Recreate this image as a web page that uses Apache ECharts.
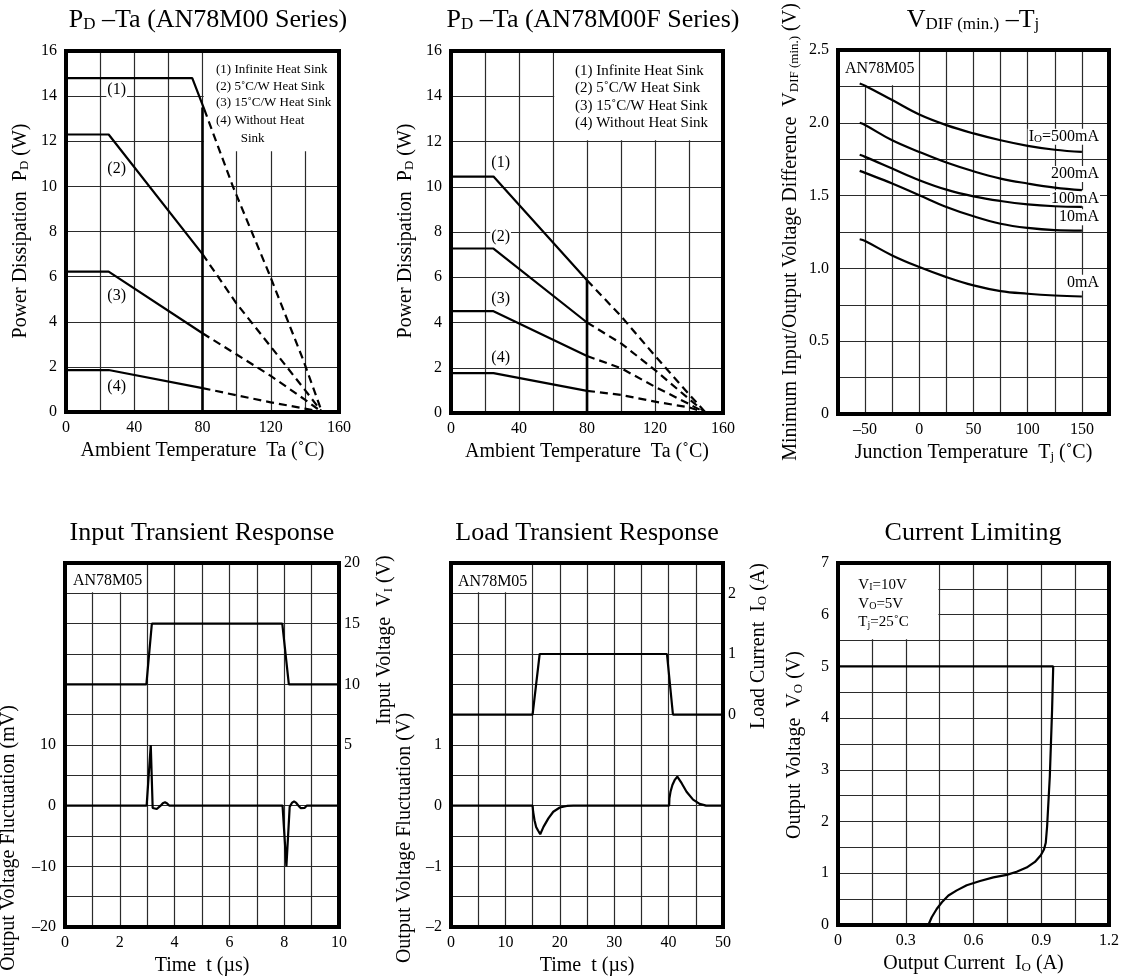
<!DOCTYPE html>
<html>
<head>
<meta charset="utf-8">
<script src="https://cdn.jsdelivr.net/npm/echarts/dist/echarts.min.js"></script>
<style>
html,body{margin:0;padding:0;background:#fff}
#c{width:1123px;height:980px}
</style>
</head>
<body>
<div id="c"></div>
<script>
// ================= DATA =================
// Panel 1: PD–Ta (AN78M00 Series)
const m00Ta1  = [0, 74, 81];
const m00Pd1  = [14.8, 14.8, 13.42];
const m00Ta1d = [81, 98, 119, 139, 150];
const m00Pd1d = [13.42, 9.96, 6.14, 2.31, 0];
const m00TaS  = [0, 25, 80];
const m00Pd2  = [12.3, 12.3, 7.0];
const m00Pd3  = [6.22, 6.22, 3.49];
const m00Pd4  = [1.86, 1.86, 1.06];
const m00TaD  = [80, 100, 120, 140, 150];
const m00Pd2d = [7.0, 4.8, 2.9, 0.98, 0];
const m00Pd3d = [3.49, 2.55, 1.6, 0.55, 0];
const m00Pd4d = [1.06, 0.74, 0.43, 0.15, 0];
const m00LimTa = [80, 80];
const m00LimPd = [0, 13.5];
const m00XLabels = [0, 40, 80, 120, 160];
const m00YLabels = [0, 2, 4, 6, 8, 10, 12, 14, 16];

// Panel 2: PD–Ta (AN78M00F Series)
const f00TaS  = [0, 25, 80];
const f00Pd1  = [10.45, 10.45, 5.87];
const f00Pd2  = [7.27, 7.27, 4.0];
const f00Pd3  = [4.5, 4.5, 2.52];
const f00Pd4  = [1.76, 1.76, 0.98];
const f00TaD  = [80, 100, 120, 140, 150];
const f00Pd1d = [5.87, 4.28, 2.53, 0.83, 0];
const f00Pd2d = [4.0, 3.08, 1.9, 0.62, 0];
const f00Pd3d = [2.52, 1.98, 1.16, 0.4, 0];
const f00Pd4d = [0.98, 0.8, 0.5, 0.25, 0];
const f00LimTa = [80, 80];
const f00LimPd = [0, 5.87];
const f00XLabels = [0, 40, 80, 120, 160];
const f00YLabels = [0, 2, 4, 6, 8, 10, 12, 14, 16];

// Panel 3: VDIF(min.)–Tj
const vdifTj  = [-55, -50, -25, 0, 25, 50, 75, 100, 125, 150];
const vdif500 = [2.27, 2.255, 2.156, 2.057, 1.984, 1.927, 1.88, 1.842, 1.815, 1.80];
const vdif200 = [2.0, 1.985, 1.88, 1.80, 1.727, 1.667, 1.617, 1.583, 1.555, 1.537];
const vdif100 = [1.78, 1.766, 1.686, 1.606, 1.541, 1.495, 1.463, 1.44, 1.427, 1.422];
const vdif10  = [1.67, 1.656, 1.583, 1.502, 1.422, 1.358, 1.307, 1.278, 1.263, 1.26];
const vdif0   = [1.20, 1.188, 1.089, 1.009, 0.94, 0.883, 0.844, 0.826, 0.814, 0.807];
const vdifXLabels = [-50, 0, 50, 100, 150];
const vdifYLabels = [0, 0.5, 1.0, 1.5, 2.0, 2.5];

// Panel 4: Input transient response
const itrVinT = [0, 2.97, 3.17, 7.93, 8.17, 10];
const itrVin  = [10, 10, 15, 15, 10, 10];
const itrOutT = [0, 2.98, 3.13, 3.2, 3.27, 3.35, 3.42, 3.49, 3.57, 3.65, 3.73, 3.81, 7.94, 8.08, 8.2, 8.28, 8.36, 8.44, 8.52, 8.6, 8.67, 8.75, 8.82, 10];
const itrOut  = [0, 0, 10, -0.38, -0.5, -0.55, -0.4, 0, 0.4, 0.55, 0.35, 0, 0, -10, -0.2, 0.45, 0.7, 0.45, 0, -0.4, -0.55, -0.35, 0, 0];
const itrXLabels = [0, 2, 4, 6, 8, 10];
const itrYLabels = [-20, -10, 0, 10];
const itrY2Labels = [5, 10, 15, 20];

// Panel 5: Load transient response
const ltrIoT  = [0, 15, 16.3, 39.7, 40.8, 50];
const ltrIo   = [0, 0, 1, 1, 0, 0];
const ltrOutT = [0, 15, 15.1, 15.35, 15.65, 16.0, 16.4, 17.0, 17.9, 18.8, 20.0, 21.3, 22.5, 40.1, 40.15, 40.35, 40.7, 41.1, 41.6, 42.4, 43.3, 44.5, 45.7, 46.9, 50];
const ltrOut  = [0, 0, -0.1, -0.24, -0.35, -0.41, -0.47, -0.35, -0.21, -0.1, -0.03, -0.005, 0, 0, 0.12, 0.23, 0.34, 0.42, 0.48, 0.37, 0.23, 0.1, 0.03, 0, 0];
const ltrXLabels = [0, 10, 20, 30, 40, 50];
const ltrYLabels = [-2, -1, 0, 1];
const ltrY2Labels = [0, 1, 2];

// Panel 6: Current limiting
const clIo = [0, 0.953, 0.948, 0.938, 0.926, 0.92, 0.912, 0.898, 0.872, 0.835, 0.791, 0.747, 0.688, 0.629, 0.57, 0.526, 0.489, 0.46, 0.437, 0.415, 0.40];
const clVo = [5, 5, 4.16, 2.88, 1.91, 1.59, 1.46, 1.35, 1.22, 1.11, 1.03, 0.97, 0.92, 0.85, 0.77, 0.67, 0.57, 0.44, 0.31, 0.15, 0];
const clXLabels = [0, 0.3, 0.6, 0.9, 1.2];
const clYLabels = [0, 1, 2, 3, 4, 5, 6, 7];

// ================= LAYOUT / STYLE =================
const FONT = 'Liberation Serif';
const grids = [
  {left: 66,  top: 51,  width: 273, height: 361},
  {left: 451, top: 51,  width: 272, height: 362},
  {left: 838, top: 50,  width: 271, height: 364},
  {left: 65,  top: 563, width: 274, height: 364},
  {left: 451, top: 563, width: 272, height: 364},
  {left: 838, top: 563, width: 271, height: 362}
];
const SOLID = {color: '#000', width: 2.2};
const THICK = {color: '#000', width: 2.6};
const DASH  = {color: '#000', width: 2.2, type: [8, 5]};
const SPLIT = {show: true, lineStyle: {color: '#2b2b2b', width: 1.2}};

const zip = (xs, ys) => xs.map((x, i) => [x, ys[i]]);
const subRich = (size) => ({s: {fontSize: size, fontFamily: FONT, color: '#000', verticalAlign: 'bottom', lineHeight: Math.round(size * 0.6)}});

function labelFmt(list, txt) {
  return function (v) {
    const hit = list.find(t => Math.abs(t - v) < 1e-7);
    if (hit === undefined) return '';
    return (txt ? txt(hit) : String(hit)).replace('-', '\u2013');
  };
}

function xAx(gi, min, max, interval, fmt, name) {
  return {
    type: 'value', gridIndex: gi, min, max, interval,
    axisLine: {show: false}, axisTick: {show: false}, splitLine: SPLIT,
    axisLabel: {formatter: fmt, margin: 8, fontSize: 16, color: '#000', fontFamily: FONT, showMinLabel: true, showMaxLabel: true},
    name, nameLocation: 'middle', nameGap: 29,
    nameTextStyle: {fontSize: 20, color: '#000', fontFamily: FONT, rich: subRich(13)}
  };
}
function yAx(gi, min, max, interval, fmt, pos, split) {
  return {
    type: 'value', gridIndex: gi, min, max, interval, position: pos || 'left',
    axisLine: {show: false}, axisTick: {show: false},
    splitLine: split === false ? {show: false} : SPLIT,
    axisLabel: {formatter: fmt, margin: pos === 'right' ? 5 : 9, fontSize: 16, color: '#000', fontFamily: FONT, showMinLabel: true, showMaxLabel: true}
  };
}
function line(xi, yi, xs, ys, style, extra) {
  return Object.assign({
    type: 'line', xAxisIndex: xi, yAxisIndex: yi, data: zip(xs, ys),
    showSymbol: false, symbol: 'none', lineStyle: style, animation: false, silent: true
  }, extra || {});
}
function title(text, cx, cy) {
  return {
    text, left: cx, top: cy, textAlign: 'center', textVerticalAlign: 'middle',
    padding: 0,
    textStyle: {fontSize: 26, fontWeight: 'normal', color: '#000', fontFamily: FONT, rich: subRich(17)}
  };
}

const option = {
  animation: false,
  backgroundColor: '#fff',
  textStyle: {fontFamily: FONT},
  title: [
    title('P{s|D} \u2013Ta (AN78M00 Series)', 208, 20),
    title('P{s|D} \u2013Ta (AN78M00F Series)', 593, 20),
    title('V{s|DIF (min.)} \u2013T{s|j}', 973, 20),
    title('Input Transient Response', 202, 533),
    title('Load Transient Response', 587, 533),
    title('Current Limiting', 973, 533)
  ],
  grid: grids.map(g => Object.assign({show: false, containLabel: false}, g)),
  xAxis: [
    xAx(0, 0, 160, 20, labelFmt(m00XLabels), 'Ambient Temperature  Ta (\u02DAC)'),
    xAx(1, 0, 160, 20, labelFmt(f00XLabels), 'Ambient Temperature  Ta (\u02DAC)'),
    xAx(2, -75, 175, 25, labelFmt(vdifXLabels), 'Junction Temperature  T{s|j} (\u02DAC)'),
    xAx(3, 0, 10, 1, labelFmt(itrXLabels), 'Time  t (\u00B5s)'),
    xAx(4, 0, 50, 5, labelFmt(ltrXLabels), 'Time  t (\u00B5s)'),
    xAx(5, 0, 1.2, 0.15, labelFmt(clXLabels), 'Output Current  I{s|O} (A)')
  ],
  yAxis: [
    yAx(0, 0, 16, 2, labelFmt(m00YLabels)),
    yAx(1, 0, 16, 2, labelFmt(f00YLabels)),
    yAx(2, 0, 2.5, 0.25, labelFmt(vdifYLabels, v => v === 0 ? '0' : v.toFixed(1))),
    yAx(3, -20, 40, 5, labelFmt(itrYLabels)),
    yAx(3, -10, 20, 2.5, labelFmt(itrY2Labels), 'right', false),
    yAx(4, -2, 4, 0.5, labelFmt(ltrYLabels)),
    yAx(4, -3.5, 2.5, 0.5, labelFmt(ltrY2Labels), 'right', false),
    yAx(5, 0, 7, 0.5, labelFmt(clYLabels))
  ],
  series: [
    // Panel 1
    line(0, 0, m00Ta1, m00Pd1, SOLID), line(0, 0, m00Ta1d, m00Pd1d, DASH),
    line(0, 0, m00TaS, m00Pd2, SOLID), line(0, 0, m00TaD, m00Pd2d, DASH),
    line(0, 0, m00TaS, m00Pd3, SOLID), line(0, 0, m00TaD, m00Pd3d, DASH),
    line(0, 0, m00TaS, m00Pd4, SOLID), line(0, 0, m00TaD, m00Pd4d, DASH),
    line(0, 0, m00LimTa, m00LimPd, THICK),
    // Panel 2
    line(1, 1, f00TaS, f00Pd1, SOLID), line(1, 1, f00TaD, f00Pd1d, DASH),
    line(1, 1, f00TaS, f00Pd2, SOLID), line(1, 1, f00TaD, f00Pd2d, DASH),
    line(1, 1, f00TaS, f00Pd3, SOLID), line(1, 1, f00TaD, f00Pd3d, DASH),
    line(1, 1, f00TaS, f00Pd4, SOLID), line(1, 1, f00TaD, f00Pd4d, DASH),
    line(1, 1, f00LimTa, f00LimPd, THICK),
    // Panel 3
    line(2, 2, vdifTj, vdif500, SOLID, {smooth: 0.4}),
    line(2, 2, vdifTj, vdif200, SOLID, {smooth: 0.4}),
    line(2, 2, vdifTj, vdif100, SOLID, {smooth: 0.4}),
    line(2, 2, vdifTj, vdif10, SOLID, {smooth: 0.4}),
    line(2, 2, vdifTj, vdif0, SOLID, {smooth: 0.4}),
    // Panel 4
    line(3, 4, itrVinT, itrVin, SOLID),
    line(3, 3, itrOutT, itrOut, SOLID),
    // Panel 5
    line(4, 6, ltrIoT, ltrIo, SOLID),
    line(4, 5, ltrOutT, ltrOut, SOLID),
    // Panel 6
    line(5, 7, clIo, clVo, SOLID)
  ]
};

const chart = echarts.init(document.getElementById('c'));
chart.setOption(option);

// ================= ANNOTATIONS (data coords -> pixels) =================
const px = (xi, yi, pt) => chart.convertToPixel({xAxisIndex: xi, yAxisIndex: yi}, pt);
const masks = [
  [0, 0, [80, 11.5], [160, 16]],
  [1, 1, [60, 12], [160, 16]],
  [2, 2, [-75, 2.25], [0, 2.5]],
  [3, 3, [0, 35], [3, 40]],
  [4, 5, [0, 3.5], [15, 4]],
  [5, 7, [0, 5.5], [0.45, 7]]
];
const notes = [
  // [xAxis, yAxis, x, y, text, size, align, vAlign, whiteBg]
  [0, 0, 87.9, 15.16, '(1) Infinite Heat Sink', 13, 'left', 'middle', false],
  [0, 0, 87.9, 14.42, '(2) 5\u02DAC/W Heat Sink', 13, 'left', 'middle', false],
  [0, 0, 87.9, 13.71, '(3) 15\u02DAC/W Heat Sink', 13, 'left', 'middle', false],
  [0, 0, 87.9, 12.91, '(4) Without Heat', 13, 'left', 'middle', false],
  [0, 0, 102.4, 12.13, 'Sink', 13, 'left', 'middle', false],
  [0, 0, 29.7, 14.27, '(1)', 16, 'center', 'middle', true],
  [0, 0, 29.7, 10.8, '(2)', 16, 'center', 'middle', false],
  [0, 0, 29.7, 5.14, '(3)', 16, 'center', 'middle', false],
  [0, 0, 29.7, 1.12, '(4)', 16, 'center', 'middle', false],
  [1, 1, 72.9, 15.12, '(1) Infinite Heat Sink', 15, 'left', 'middle', false],
  [1, 1, 72.9, 14.35, '(2) 5\u02DAC/W Heat Sink', 15, 'left', 'middle', false],
  [1, 1, 72.9, 13.58, '(3) 15\u02DAC/W Heat Sink', 15, 'left', 'middle', false],
  [1, 1, 72.9, 12.81, '(4) Without Heat Sink', 15, 'left', 'middle', false],
  [1, 1, 29.2, 11.04, '(1)', 16, 'center', 'middle', false],
  [1, 1, 29.2, 7.79, '(2)', 16, 'center', 'middle', true],
  [1, 1, 29.2, 5.04, '(3)', 16, 'center', 'middle', false],
  [1, 1, 29.2, 2.42, '(4)', 16, 'center', 'middle', false],
  [2, 2, -68.5, 2.37, 'AN78M05', 16, 'left', 'middle', false],
  [2, 2, 166.7, 1.905, 'I{s|O}=500mA', 16, 'right', 'middle', true],
  [2, 2, 166.7, 1.648, '200mA', 16, 'right', 'middle', true],
  [2, 2, 166.7, 1.481, '100mA', 16, 'right', 'middle', true],
  [2, 2, 166.7, 1.351, '10mA', 16, 'right', 'middle', true],
  [2, 2, 166.7, 0.902, '0mA', 16, 'right', 'middle', true],
  [3, 3, 0.29, 37.03, 'AN78M05', 16, 'left', 'middle', false],
  [4, 5, 1.29, 3.69, 'AN78M05', 16, 'left', 'middle', false],
  [5, 7, 0.09, 6.575, 'V{s|I}=10V', 15, 'left', 'middle', false],
  [5, 7, 0.09, 6.2, 'V{s|O}=5V', 15, 'left', 'middle', false],
  [5, 7, 0.09, 5.85, 'T{s|j}=25\u02DAC', 15, 'left', 'middle', false]
];
// rotated axis names: [x px, y px, text, size]
const vnames = [
  [21, 231, 'Power Dissipation  P{s|D} (W)', 20],
  [406, 231, 'Power Dissipation  P{s|D} (W)', 20],
  [791, 232, 'Minimum Input/Output Voltage Difference  V{s|DIF (min.)} (V)', 20],
  [9, 838, 'Output Voltage Fluctuation (mV)', 20],
  [385, 640, 'Input Voltage  V{s|I} (V)', 20],
  [405, 838, 'Output Voltage Fluctuation (V)', 20],
  [759, 646, 'Load Current  I{s|O} (A)', 20],
  [795, 745, 'Output Voltage  V{s|O} (V)', 20]
];

const gfx = [];
masks.forEach(([xi, yi, a, b]) => {
  const p = px(xi, yi, a), q = px(xi, yi, b);
  const x0 = Math.min(p[0], q[0]) + 1.2, x1 = Math.max(p[0], q[0]) - 1.2;
  const y0 = Math.min(p[1], q[1]) + 1.2, y1 = Math.max(p[1], q[1]) - 1.2;
  gfx.push({type: 'rect', z: 1, silent: true, shape: {x: x0, y: y0, width: x1 - x0, height: y1 - y0}, style: {fill: '#fff', stroke: null}});
});
function richFor(size) {
  const s = Math.round(size * 0.66);
  return {s: {fontSize: s, fontFamily: FONT, fill: '#000', verticalAlign: 'bottom', lineHeight: Math.round(s * 0.6)}};
}
notes.forEach(([xi, yi, x, y, text, size, align, va, bg]) => {
  const p = px(xi, yi, [x, y]);
  const st = {text, fill: '#000', fontSize: size, fontFamily: FONT, align, verticalAlign: va, textAlign: align, textVerticalAlign: va, rich: richFor(size)};
  if (bg) { st.backgroundColor = '#fff'; st.padding = [0, 1, 0, 1]; }
  gfx.push({type: 'text', z: 1, silent: true, x: p[0], y: p[1], style: st});
});
vnames.forEach(([x, y, text, size]) => {
  gfx.push({type: 'text', z: 5, silent: true, x, y, rotation: Math.PI / 2,
    style: {text, fill: '#000', fontSize: size, fontFamily: FONT, align: 'center', verticalAlign: 'middle', textAlign: 'center', textVerticalAlign: 'middle', rich: richFor(size)}});
});
grids.forEach(g => {
  gfx.push({type: 'rect', z: 10, silent: true, shape: {x: g.left, y: g.top, width: g.width, height: g.height}, style: {fill: null, stroke: '#000', lineWidth: 4}});
});
chart.setOption({graphic: {elements: gfx}});
</script>
</body>
</html>
